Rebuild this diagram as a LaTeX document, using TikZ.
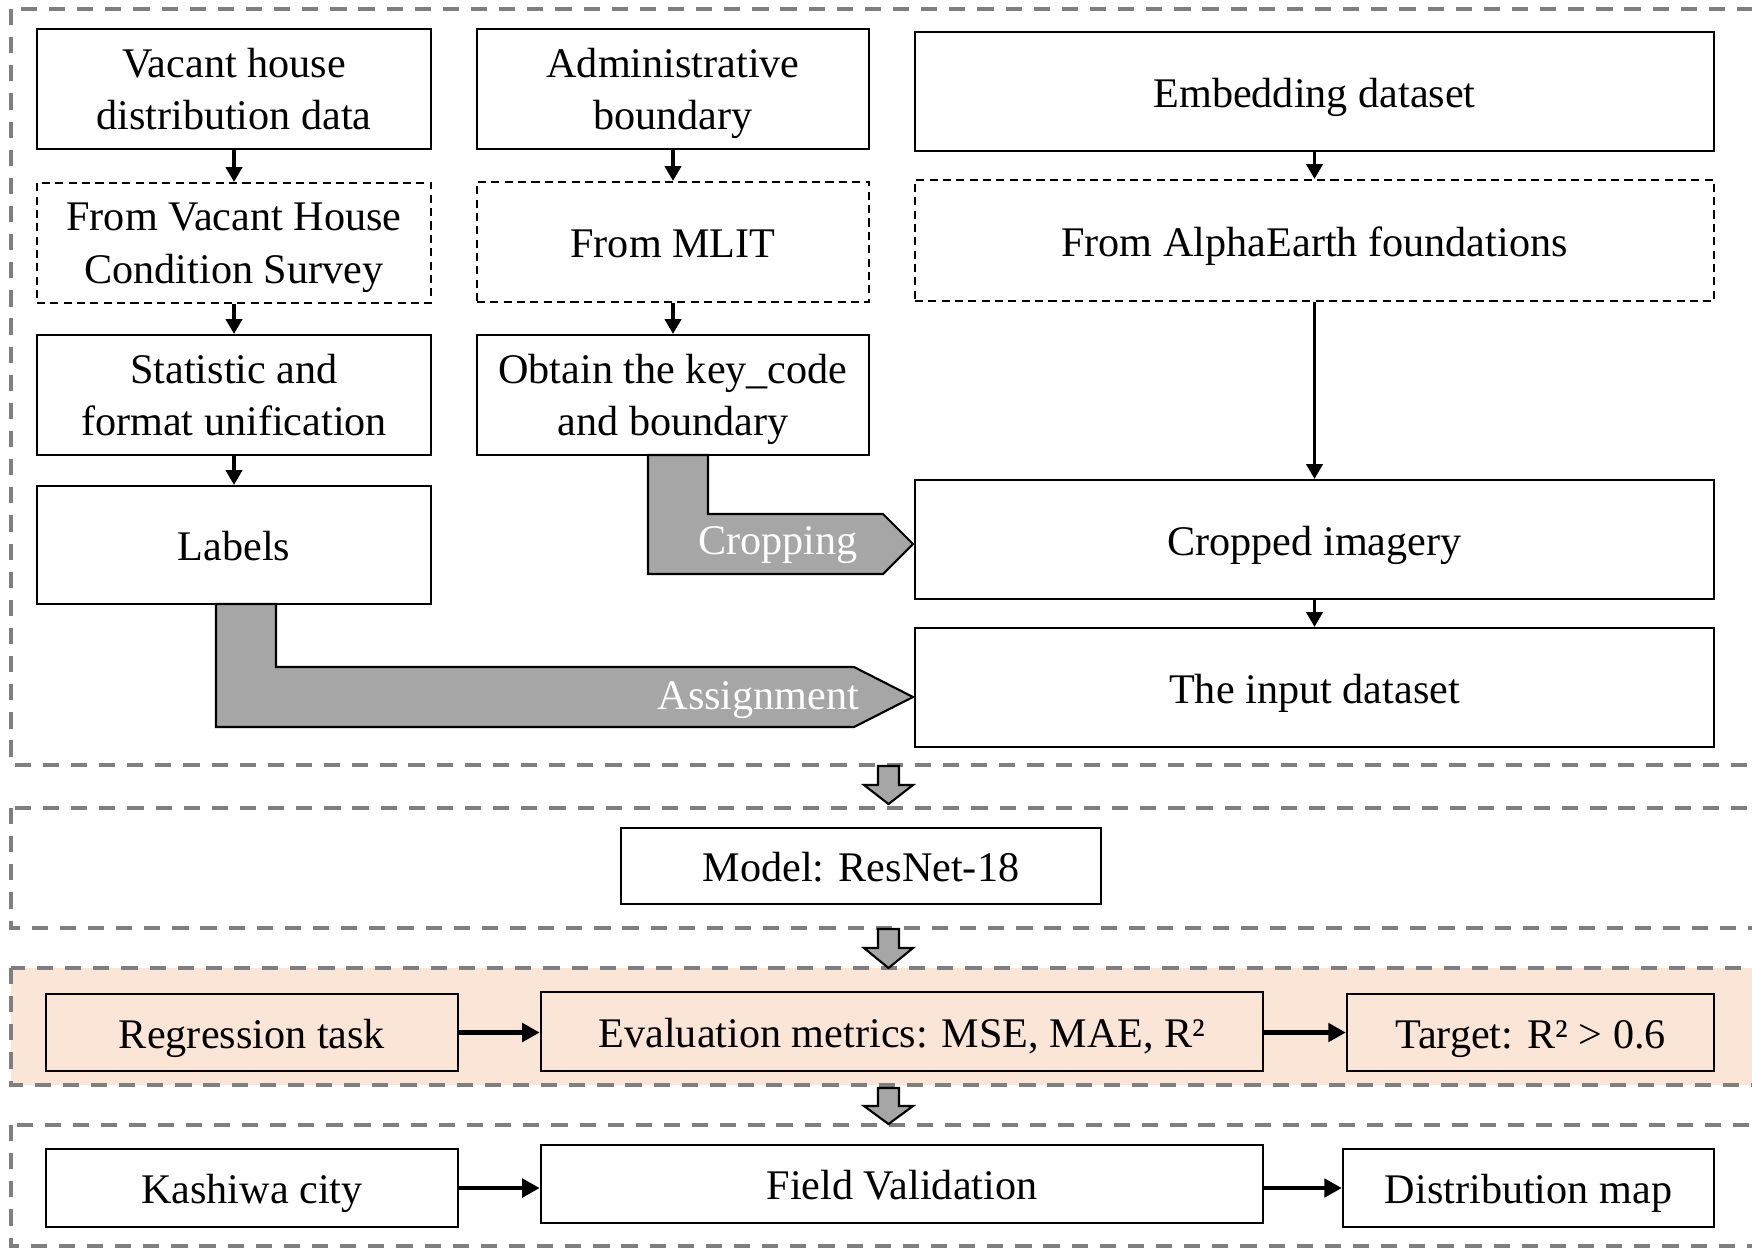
\documentclass[tikz,border=0pt]{standalone}
\usepackage{fontspec}
\setmainfont{Liberation Serif}
\usetikzlibrary{arrows.meta,calc}
\definecolor{regiongray}{HTML}{7F7F7F}
\definecolor{arrowgray}{HTML}{A6A6A6}
\definecolor{taskpink}{HTML}{FBE5D6}
\begin{document}
\begin{tikzpicture}[x=0.01cm,y=-0.01cm,
  txt/.style={font=\fontsize{12}{14.9}\selectfont},
  box/.style={txt, draw, line width=0.6pt, align=center, inner sep=0pt, text depth=0pt},
  one/.style={text height=9pt},
  dbox/.style={box, dash pattern=on 2.3pt off 1.5pt},
  region/.style={draw=regiongray, line width=0.9pt, dash pattern=on 4.6pt off 3.4pt},
  flow/.style={-{Triangle[length=4.2pt,width=4.6pt]}, line width=0.9pt},
  hflow/.style={-{Triangle[length=5pt,width=5.2pt]}, line width=1.2pt},
  block/.style={fill=arrowgray, draw=black, line width=0.6pt, line join=miter},
  blocklabel/.style={txt, text=white, inner sep=0pt, text height=7.9pt, text depth=0pt}]
\useasboundingbox (0,0) rectangle (1752,1247);

% dashed stage frames
\draw[region] (11,9) rectangle (1800,765);
\draw[region] (11,808) rectangle (1800,928);
\draw[region, fill=taskpink] (11,968) rectangle (1800,1085);
\draw[region] (11,1125) rectangle (1800,1246);

% data preparation: three source columns
\node[box, minimum width=3.94cm, minimum height=1.20cm] (vac) at (234,89) {Vacant house\\distribution data};
\node[dbox, minimum width=3.94cm, minimum height=1.20cm] (vsrc) at (234,243) {From Vacant House\\Condition Survey};
\node[box, minimum width=3.94cm, minimum height=1.20cm] (stat) at (234,395) {Statistic and\\format unification};
\node[box, one, minimum width=3.94cm, minimum height=1.18cm] (lab) at (234,545) {Labels};

\node[box, minimum width=3.92cm, minimum height=1.20cm] (adm) at (673,89) {Administrative\\boundary};
\node[dbox, one, minimum width=3.92cm, minimum height=1.20cm] (mlit) at (673,242) {From MLIT};
\node[box, minimum width=3.92cm, minimum height=1.20cm] (key) at (673,395) {Obtain the key\_code\\and boundary};

\node[box, one, minimum width=7.99cm, minimum height=1.19cm] (emb) at (1314.5,91.5) {Embedding dataset};
\node[dbox, one, minimum width=7.99cm, minimum height=1.21cm] (alpha) at (1314.5,240.5) {From AlphaEarth foundations};
\node[box, one, minimum width=7.99cm, minimum height=1.19cm] (crop) at (1314.5,539.5) {Cropped imagery};
\node[box, one, minimum width=7.99cm, minimum height=1.19cm] (inp) at (1314.5,687.5) {The input dataset};

\draw[flow] (vac) -- (vsrc);
\draw[flow] (vsrc) -- (stat);
\draw[flow] (stat) -- (lab);
\draw[flow] (adm) -- (mlit);
\draw[flow] (mlit) -- (key);
\draw[flow] (emb) -- (alpha);
\draw[flow] (alpha) -- (crop);
\draw[flow] (crop) -- (inp);

% bent block arrows
\draw[block] (648,455) -- (708,455) -- (708,514) -- (883,514) -- (913,544)
  -- (883,574) -- (648,574) -- cycle;
\node[blocklabel] (cropping) at (778,541) {Cropping};
\draw[block] (216,604) -- (276,604) -- (276,667) -- (854,667) -- (913,697)
  -- (854,727) -- (216,727) -- cycle;
\node[blocklabel, anchor=east] (assign) at (860,696) {Assignment};

% model stage
\node[box, one, minimum width=4.80cm, minimum height=0.76cm] (model) at (861,866) {Model: ResNet-18};

% task stage
\node[box, one, minimum width=4.12cm, minimum height=0.77cm] (reg) at (252,1032.5) {Regression task};
\node[box, one, minimum width=7.22cm, minimum height=0.79cm] (eval) at (902,1031.5) {Evaluation metrics: MSE, MAE, R²};
\node[box, one, minimum width=3.67cm, minimum height=0.77cm] (tgt) at (1530.5,1032.5) {Target: R² > 0.6};
\draw[hflow] (reg.east) -- (reg.east -| eval.west);
\draw[hflow] (eval.east |- tgt.west) -- (tgt.west);

% application stage
\node[box, one, minimum width=4.12cm, minimum height=0.78cm] (kas) at (252,1188) {Kashiwa city};
\node[box, one, minimum width=7.22cm, minimum height=0.78cm] (field) at (902,1184) {Field Validation};
\node[box, one, minimum width=3.71cm, minimum height=0.78cm] (dmap) at (1528.5,1188) {Distribution map};
\draw[hflow] (kas.east) -- (kas.east -| field.west);
\draw[hflow] (field.east |- dmap.west) -- (dmap.west);

% block arrows between stages
\foreach \t/\h/\b in {766/785/804, 929/948/968, 1088/1106/1124}{
  \draw[block] (878,\t) -- (899,\t) -- (899,\h) -- (913,\h) -- (888.5,\b)
    -- (864,\h) -- (878,\h) -- cycle;
}
\end{tikzpicture}
\end{document}
